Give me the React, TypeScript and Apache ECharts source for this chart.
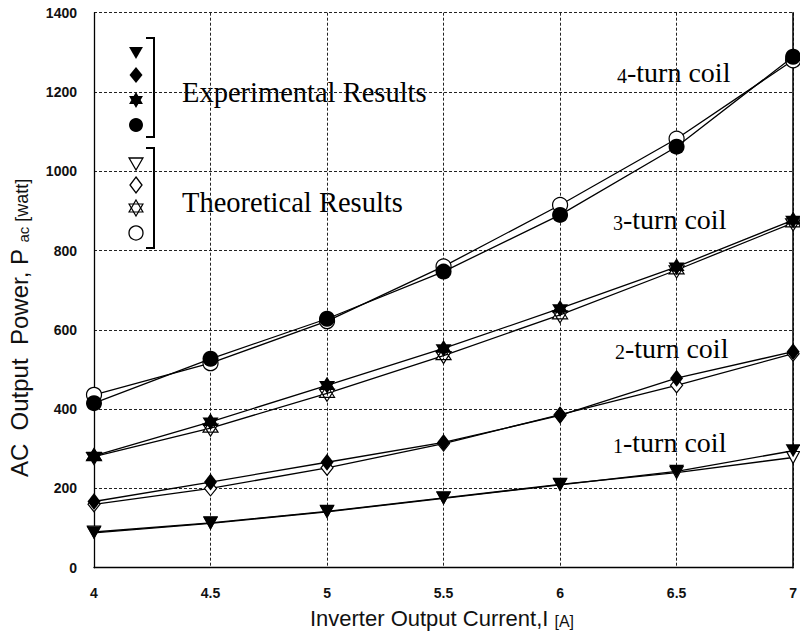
import React, { useEffect, useRef } from "react";
import * as echarts from "echarts";

// ---- data ----
const currentA = [4, 4.5, 5, 5.5, 6, 6.5, 7];
const exp1Turn = [88, 112, 141, 175, 209, 243, 295];
const theo1Turn = [90, 113, 142, 176, 210, 240, 278];
const exp2Turn = [167, 216, 266, 316, 384, 478, 545];
const theo2Turn = [160, 200, 252, 313, 386, 460, 540];
const exp3Turn = [282, 368, 460, 553, 654, 759, 877];
const theo3Turn = [280, 352, 440, 535, 638, 751, 870];
const exp4Turn = [415, 527, 628, 747, 890, 1062, 1289];
const theo4Turn = [436, 516, 622, 760, 915, 1082, 1280];
const yTicks = [0, 200, 400, 600, 800, 1000, 1200, 1400];
const xTicks = [4, 4.5, 5, 5.5, 6, 6.5, 7];
const coilLabels = ["4", "3", "2", "1"];

const TRI_DOWN = "path://M0,0L100,0L50,90Z";
const HEXAGRAM =
  "path://M100,0L128.9,50L186.6,50L157.7,100L186.6,150L128.9,150L100,200L71.1,150L13.4,150L42.3,100L13.4,50L71.1,50Z";
const DAVID = "path://M100,0L186.6,150L13.4,150ZM100,200L186.6,50L13.4,50Z";

const zip = (ys: number[]) => currentA.map((x, i) => [x, ys[i]]);

function hexPoints(cx: number, cy: number, r: number) {
  const pts: number[][] = [];
  for (let k = 0; k < 12; k++) {
    const ang = ((-90 + k * 30) * Math.PI) / 180;
    const rr = k % 2 === 0 ? r : r / Math.sqrt(3);
    pts.push([cx + rr * Math.cos(ang), cy + rr * Math.sin(ang)]);
  }
  return pts;
}
function triPoints(cx: number, cy: number, r: number, up: boolean) {
  const s = up ? -1 : 1;
  return [
    [cx, cy + s * r],
    [cx + r * 0.866, cy - s * r * 0.5],
    [cx - r * 0.866, cy - s * r * 0.5],
  ];
}

export default function App() {
  const ref = useRef<HTMLDivElement>(null);
  useEffect(() => {
    if (!ref.current) return;
    const chart = echarts.init(ref.current, undefined, { renderer: "svg" });
    const lineStyle = { color: "#000", width: 1.3 };
    const filled = (name: string, data: number[], symbol: string, size: any) => ({
      name,
      type: "line",
      data: zip(data),
      symbol,
      symbolSize: size,
      lineStyle,
      itemStyle: { color: "#000", borderColor: "#000", borderWidth: 0 },
      z: 5,
    });
    const open = (name: string, data: number[], symbol: string, size: any) => ({
      name,
      type: "line",
      data: zip(data),
      symbol,
      symbolSize: size,
      lineStyle,
      itemStyle: { color: "#fff", borderColor: "#000", borderWidth: 1.2 },
      z: 3,
    });
    const serif = "'Liberation Serif', 'Times New Roman', serif";
    const sans = "'Liberation Sans', Arial, sans-serif";
    const coilText = (d: string, x: number, y: number) => ({
      type: "text",
      x,
      y,
      style: {
        text: `{d|${d}}{t|-turn coil}`,
        align: "left",
        verticalAlign: "middle",
        rich: {
          d: { fontFamily: serif, fontSize: 20, fill: "#000", verticalAlign: "bottom", lineHeight: 28 },
          t: { fontFamily: serif, fontSize: 28, fill: "#000", verticalAlign: "bottom", lineHeight: 28 },
        },
      },
    });
    const lx = 136;
    const legendMarks: any[] = [
      { type: "polygon", shape: { points: triPoints(lx, 51, 8, false) }, style: { fill: "#000" } },
      { type: "polygon", shape: { points: [[lx, 67], [lx + 6.5, 75], [lx, 83], [lx - 6.5, 75]] }, style: { fill: "#000" } },
      { type: "polygon", shape: { points: hexPoints(lx, 100, 8) }, style: { fill: "#000" } },
      { type: "circle", shape: { cx: lx, cy: 125, r: 7 }, style: { fill: "#000" } },
      { type: "polygon", shape: { points: triPoints(lx, 162, 8, false) }, style: { fill: "#fff", stroke: "#000", lineWidth: 1.3 } },
      { type: "polygon", shape: { points: [[lx, 177], [lx + 6, 185], [lx, 193], [lx - 6, 185]] }, style: { fill: "#fff", stroke: "#000", lineWidth: 1.3 } },
      { type: "polygon", shape: { points: triPoints(lx, 208, 8, true) }, style: { fill: "none", stroke: "#000", lineWidth: 1.2 } },
      { type: "polygon", shape: { points: triPoints(lx, 208, 8, false) }, style: { fill: "none", stroke: "#000", lineWidth: 1.2 } },
      { type: "circle", shape: { cx: lx, cy: 233, r: 7 }, style: { fill: "#fff", stroke: "#000", lineWidth: 1.3 } },
      { type: "polyline", shape: { points: [[146, 38], [154, 38], [154, 137], [146, 137]] }, style: { stroke: "#000", lineWidth: 2, fill: "none" } },
      { type: "polyline", shape: { points: [[146, 148], [154, 148], [154, 248], [146, 248]] }, style: { stroke: "#000", lineWidth: 2, fill: "none" } },
    ];
    chart.setOption({
      animation: false,
      backgroundColor: "#fff",
      grid: { left: 94, right: 3, top: 12.7, bottom: 63.3 },
      xAxis: {
        type: "value",
        min: xTicks[0],
        max: xTicks[xTicks.length - 1],
        interval: 0.5,
        axisLine: { show: true, lineStyle: { color: "#000", width: 1.3 } },
        axisTick: { show: false },
        axisLabel: {
          margin: 18,
          fontFamily: sans,
          fontSize: 14,
          fontWeight: "bold",
          color: "#111",
          formatter: (v: number) => String(v),
        },
        splitLine: { show: true, lineStyle: { color: "#222", width: 1, type: [3, 2] } },
      },
      yAxis: [
        {
          type: "value",
          min: yTicks[0],
          max: yTicks[yTicks.length - 1],
          interval: 200,
          axisLine: { show: true, lineStyle: { color: "#000", width: 1.3 } },
          axisTick: { show: false },
          axisLabel: {
            margin: 17,
            fontFamily: sans,
            fontSize: 14,
            fontWeight: "bold",
            color: "#111",
            formatter: (v: number) => String(v),
          },
          splitLine: { show: true, lineStyle: { color: "#222", width: 1, type: [3, 2] } },
        },
        {
          type: "value",
          position: "right",
          min: yTicks[0],
          max: yTicks[yTicks.length - 1],
          interval: 200,
          axisLine: { show: true, lineStyle: { color: "#000", width: 1.5 } },
          axisTick: { show: false },
          axisLabel: { show: false },
          splitLine: { show: false },
        },
      ],
      series: [
        open("Theoretical 1-turn", theo1Turn, TRI_DOWN, [13, 12]),
        open("Theoretical 2-turn", theo2Turn, "diamond", [12, 15]),
        open("Theoretical 3-turn", theo3Turn, DAVID, [15, 16]),
        open("Theoretical 4-turn", theo4Turn, "circle", 15),
        filled("Experimental 1-turn", exp1Turn, TRI_DOWN, [15, 13]),
        filled("Experimental 2-turn", exp2Turn, "diamond", [13, 17]),
        filled("Experimental 3-turn", exp3Turn, HEXAGRAM, [16, 17]),
        filled("Experimental 4-turn", exp4Turn, "circle", 16),
      ],
      graphic: [
        ...legendMarks,
        {
          type: "text",
          x: 182,
          y: 92,
          style: { text: "Experimental Results", fontFamily: serif, fontSize: 28.5, fill: "#000", align: "left", verticalAlign: "middle" },
        },
        {
          type: "text",
          x: 182,
          y: 202,
          style: { text: "Theoretical Results", fontFamily: serif, fontSize: 28.5, fill: "#000", align: "left", verticalAlign: "middle" },
        },
        coilText(coilLabels[0], 617, 72),
        coilText(coilLabels[1], 613, 219),
        coilText(coilLabels[2], 615, 348),
        coilText(coilLabels[3], 613, 442),
        {
          type: "text",
          x: 442,
          y: 617,
          style: {
            text: "{a|Inverter Output Current,I }{b|[A]}",
            align: "center",
            verticalAlign: "middle",
            rich: {
              a: { fontFamily: sans, fontSize: 22, fill: "#111", verticalAlign: "bottom", lineHeight: 24 },
              b: { fontFamily: sans, fontSize: 16, fill: "#111", verticalAlign: "bottom", lineHeight: 24 },
            },
          },
        },
        {
          type: "text",
          x: 18,
          y: 328,
          rotation: Math.PI / 2,
          style: {
            text: "{a|AC  Output  Power, P }{b|ac}{c| [watt]}",
            align: "center",
            verticalAlign: "middle",
            rich: {
              a: { fontFamily: sans, fontSize: 24, fill: "#111", verticalAlign: "bottom", lineHeight: 26 },
              b: { fontFamily: sans, fontSize: 15, fill: "#111", verticalAlign: "bottom", lineHeight: 24 },
              c: { fontFamily: sans, fontSize: 18, fill: "#111", verticalAlign: "bottom", lineHeight: 26 },
            },
          },
        },
      ],
    });
    return () => chart.dispose();
  }, []);
  return <div ref={ref} style={{ position: "absolute", left: 0, top: 0, width: 800, height: 631 }} />;
}
